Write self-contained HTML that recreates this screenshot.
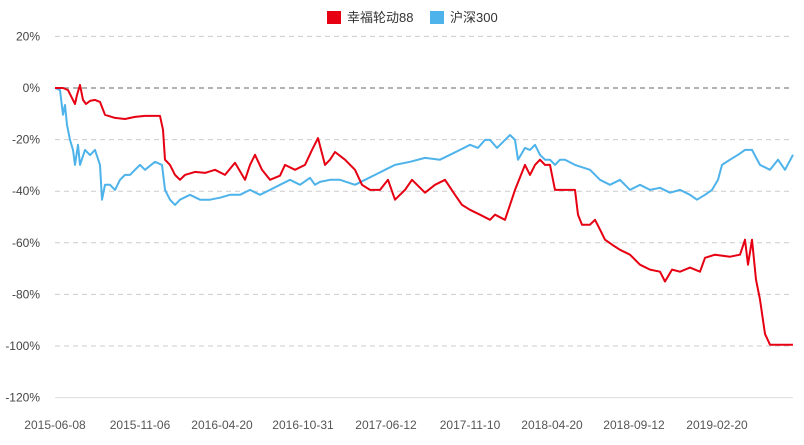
<!DOCTYPE html>
<html><head><meta charset="utf-8"><style>
body{margin:0;background:#fff;font-family:"Liberation Sans","Noto Sans CJK SC",sans-serif;}
svg text{font-family:"Liberation Sans","Noto Sans CJK SC",sans-serif;}
</style></head><body>
<svg id="chart" width="804" height="440" viewBox="0 0 804 440" xmlns="http://www.w3.org/2000/svg">
<g id="grid"></g>
<g id="yaxis"></g>
<g id="xaxis"></g>
<g id="series"></g>
<g>
<rect x="327" y="11" width="14" height="13" fill="#e60012"/>
<text x="347" y="22" font-size="13" fill="#333">幸福轮动88</text>
<rect x="430" y="11" width="14" height="13" fill="#4db3ea"/>
<text x="450" y="22" font-size="13" fill="#333">沪深300</text>
</g>
</svg>
<script>
const yTicks=[20,0,-20,-40,-60,-80,-100,-120];
const xLabels=["2015-06-08","2015-11-06","2016-04-20","2016-10-31","2017-06-12","2017-11-10","2018-04-20","2018-09-12","2019-02-20"];
const xLabelDays=[0,85,167,248,331,415,497,579,662];
const fundDays=[0,8,13,17,20,22,25,28,31,35,40,45,50,60,70,80,90,100,105,108,110,115,120,125,130,140,150,160,170,180,190,195,200,207,215,225,230,240,250,257,263,270,275,280,290,300,307,315,325,333,340,350,357,370,380,390,400,407,415,425,435,440,450,455,460,470,475,480,485,490,495,500,510,520,523,527,535,540,545,550,557,565,575,585,595,605,610,617,625,635,645,650,660,675,685,690,693,697,701,705,710,715,738];
const fundValues=[0,0,-0.8,-3.9,-6.2,-2.7,1.2,-4.6,-6.2,-5,-4.6,-5.4,-10.4,-11.6,-12,-11.2,-10.8,-10.8,-10.8,-16.2,-27.8,-29.8,-33.7,-35.6,-33.7,-32.5,-32.9,-31.7,-33.7,-29,-35.6,-29.8,-25.9,-31.7,-35.6,-34,-29.8,-31.7,-29.8,-24,-19.4,-29.8,-27.8,-24.8,-27.8,-31.7,-37.5,-39.5,-39.5,-35.6,-43.3,-39.5,-35.6,-40.6,-37.5,-35.6,-41.4,-45.3,-47.2,-49.1,-51.1,-49.1,-51.1,-45.3,-39.5,-29.8,-33.7,-29.8,-27.8,-29.8,-29.8,-39.5,-39.5,-39.5,-49.1,-53,-53,-51.1,-54.9,-58.8,-60.7,-62.7,-64.6,-68.5,-70.4,-71.2,-75,-70.4,-71.2,-69.6,-71.2,-65.8,-64.6,-65.4,-64.6,-58.8,-68.5,-58.8,-74.3,-82,-95.3,-99.5,-99.5];
const hsDays=[0,5,8,10,12,15,18,20,23,25,30,35,40,45,47,50,55,60,65,70,75,80,85,90,100,107,110,115,120,125,135,145,155,165,175,185,195,205,215,225,235,245,255,260,265,275,285,300,310,320,330,340,355,370,385,395,405,415,423,430,435,442,450,455,460,463,470,475,480,485,490,495,500,505,510,520,535,545,555,565,575,585,595,605,615,625,635,642,650,657,663,667,675,683,690,697,705,715,723,730,738];
const hsValues=[0,-0.8,-10.4,-6.6,-14.3,-20.1,-24,-29.8,-22,-29.8,-24,-26,-24,-29.8,-43.3,-37.5,-37.5,-39.5,-35.6,-33.7,-33.7,-31.7,-29.8,-31.7,-28.6,-29.8,-39.5,-43.3,-45.3,-43.3,-41.4,-43.3,-43.3,-42.5,-41.4,-41.4,-39.5,-41.4,-39.5,-37.5,-35.6,-37.5,-34.8,-37.5,-36.4,-35.6,-35.6,-37.5,-35.6,-33.7,-31.7,-29.8,-28.6,-27.1,-27.8,-25.9,-24,-22,-23.2,-20.1,-20.1,-23.2,-20.1,-18.2,-20.1,-27.8,-23.2,-24,-22,-25.9,-27.8,-27.8,-29.8,-27.8,-27.8,-29.8,-31.7,-35.6,-37.5,-35.6,-39.5,-37.5,-39.5,-38.7,-40.6,-39.5,-41.4,-43.3,-41.4,-39.5,-35.6,-29.8,-27.8,-25.9,-24,-24,-29.8,-31.7,-27.8,-31.7,-25.9];
const NS="http://www.w3.org/2000/svg";
const X0=55,X1=793,D1=738;
function xS(d){return X0+(X1-X0)*d/D1;}
function yS(v){return 88-(v/20)*51.6;}
function mk(tag,attrs,parent){const e=document.createElementNS(NS,tag);for(const k in attrs)e.setAttribute(k,attrs[k]);parent.appendChild(e);return e;}
const grid=document.getElementById('grid'),ya=document.getElementById('yaxis'),xa=document.getElementById('xaxis'),ser=document.getElementById('series');
yTicks.forEach((t,i)=>{
 const last=i===yTicks.length-1;
 const attrs={x1:X0,x2:X1,y1:yS(t),y2:yS(t),stroke:t===0?'#999':(last?'#ddd':'#ccc'),'stroke-width':t===0?1.5:1};
 if(!last)attrs['stroke-dasharray']='5,4';
 const l=mk('line',attrs,grid);
 
 
 const tx=mk('text',{x:40,y:yS(t)+4,'text-anchor':'end','font-size':12,fill:'#444'},ya);
 tx.textContent=t+'%';
 
 
});
xLabels.forEach((s,i)=>{
 const tx=mk('text',{x:xS(xLabelDays[i]),y:429,'text-anchor':'middle','font-size':12,fill:'#555'},xa);
 tx.textContent=s;
 
 
});
function line(days,vals,color,name){
 const d=days.map((t,i)=>(i?'L':'M')+xS(t).toFixed(1)+','+yS(vals[i]).toFixed(1)).join('');
 const p=mk('path',{d:d,fill:'none',stroke:color,'stroke-width':2,'stroke-linejoin':'round'},ser);
 
 
}
line(hsDays,hsValues,'#4db3ea','line-hs300');
line(fundDays,fundValues,'#e60012','line-fund');
</script>
</body></html>
